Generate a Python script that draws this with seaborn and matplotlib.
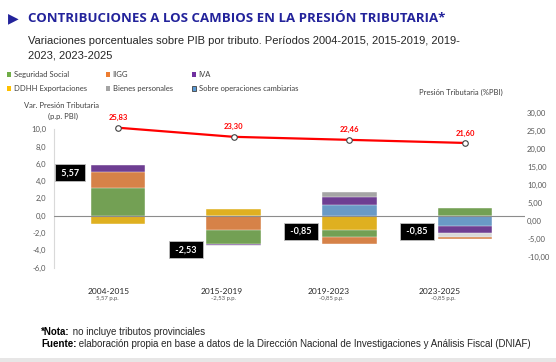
import numpy as np
import pandas as pd
import seaborn as sns
import matplotlib.pyplot as plt
from matplotlib.patches import Patch, Rectangle
from matplotlib.ticker import FuncFormatter

# ---- data ----
periodos = ["2004-2015", "2015-2019", "2019-2023", "2023-2025"]
var_total = [5.57, -2.53, -0.85, -0.85]          # p.p. PBI (black boxes)
presion = [25.83, 23.30, 22.46, 21.60]           # % PBI (red line)

seguridad_social = [3.24, -1.59, -0.84, 0.86]
iigg = [1.85, -1.65, -0.78, -0.30]
iva = [0.78, -0.19, 0.96, -0.78]
ddhh_export = [-0.96, 0.78, -1.66, 0.0]
bienes_personales = [0.0, 0.0, 0.58, 0.0]
otros = [0.0, -0.11, 0.0, -0.46]
cambiarias = [0.0, 0.0, 1.24, -1.19]

tributos = {
    "Seguridad Social": seguridad_social,
    "IIGG": iigg,
    "IVA": iva,
    "DDHH Exportaciones": ddhh_export,
    "Bienes personales": bienes_personales,
    "Otros": otros,
    "Sobre operaciones cambiarias": cambiarias,
}
colores = {
    "Seguridad Social": "#70ad47",
    "IIGG": "#ed7d31",
    "IVA": "#7030a0",
    "DDHH Exportaciones": "#ffc000",
    "Bienes personales": "#a5a5a5",
    "Otros": "#d9d9d9",
    "Sobre operaciones cambiarias": "#5b9bd5",
}

# layout helpers (pixel positions of texts)
box_y = [4.95, -3.95, -1.8, -1.8]
label_px = [109, 222, 329, 440]
sub_px = [107, 223, 331, 443]

W, H = 556, 362

sns.set_style("white")
plt.rcParams["font.family"] = ["Lato", "DejaVu Sans"]

# long table, stacked with the biggest piece next to zero
rows = []
for t, vals in tributos.items():
    for p, v in zip(periodos, vals):
        if v != 0:
            rows.append({"periodo": p, "tributo": t, "valor": v})
df = pd.DataFrame(rows)
df["signo"] = np.sign(df["valor"])
df["mag"] = df["valor"].abs()
df = df.sort_values(["periodo", "signo", "mag"], ascending=[True, True, False])
df["fin"] = df.groupby(["periodo", "signo"])["valor"].cumsum()
df["rango"] = df.groupby(["periodo", "signo"]).cumcount()

fig = plt.figure(figsize=(W / 100, H / 100), dpi=100)
ax = fig.add_axes([54.3 / W, 1 - 275 / H, (525 - 54.3) / W, 170 / H])

for r in sorted(df["rango"].unique(), reverse=True):
    sub = df[df["rango"] == r]
    sns.barplot(data=sub, x="periodo", y="fin", hue="tributo", palette=colores,
                order=periodos, dodge=False, width=0.47, errorbar=None,
                legend=False, edgecolor="white", linewidth=0.3, ax=ax)

ax.axhline(0, color="#8c8c8c", lw=0.8, zorder=3)
ax.set_xlim(-0.551, 3.519)
ax.set_ylim(-6.86, 12.81)
ax.set_yticks(np.arange(-6, 11, 2))
ax.yaxis.set_major_formatter(FuncFormatter(lambda v, _: f"{v:.1f}".replace(".", ",")))
ax.tick_params(axis="y", length=0, pad=6, labelsize=5.5, labelcolor="#595959")
ax.set_xticks([])
ax.set_xlabel("")
ax.set_ylabel("")
for s in ["top", "right", "bottom"]:
    ax.spines[s].set_visible(False)
ax.spines["left"].set_color("#d9d9d9")
ax.spines["left"].set_linewidth(0.8)
ax.spines["left"].set_bounds(-6, 10)
ax.patch.set_alpha(0)

# black total boxes
for i, (v, y) in enumerate(zip(var_total, box_y)):
    ax.text(i - 0.415, y, " " + f"{v:.2f}".replace(".", ",") + " ", ha="center",
            va="center", color="white", fontsize=6.5, fontweight="bold", zorder=5,
            bbox=dict(boxstyle="square,pad=0.45", fc="black", ec="#bfbfbf", lw=0.6))

# red line on secondary axis
ax2 = ax.twinx()
sns.lineplot(x=np.arange(len(periodos)), y=presion, ax=ax2, color="#ff0000",
             lw=1.6, marker="o", markersize=4, markerfacecolor="white",
             markeredgecolor="#404040", markeredgewidth=0.8, zorder=4)
for i, v in enumerate(presion):
    ax2.annotate(f"{v:.2f}".replace(".", ","), (i, v), xytext=(0, 7.2),
                 textcoords="offset points", ha="center", va="center",
                 color="#ff0000", fontsize=5.5, fontweight="bold")
ax2.set_ylim(-15.08, 32.14)
ax2.set_yticks(np.arange(-10, 31, 5))
ax2.yaxis.set_major_formatter(FuncFormatter(lambda v, _: f"{v:.2f}".replace(".", ",")))
ax2.tick_params(axis="y", length=0, pad=1.5, labelsize=5.5, labelcolor="#595959")
ax2.set_xticks([])
ax2.set_xlabel("")
ax2.set_ylabel("")
for s in ax2.spines.values():
    s.set_visible(False)

# category labels
for p, v, x1, x2 in zip(periodos, var_total, label_px, sub_px):
    fig.text(x1 / W, 1 - 291 / H, p, ha="center", va="center", fontsize=6,
             color="#262626")
    fig.text(x2 / W, 1 - 298.5 / H, f"{v:.2f} p.p.".replace(".", ",", 1),
             ha="center", va="center", fontsize=4.3, color="#595959")

# axis titles
fig.text(62 / W, 1 - 106 / H, "Var. Presión Tributaria", ha="center", va="center",
         fontsize=5.5, color="#404040")
fig.text(63 / W, 1 - 116 / H, "(p.p. PBI)", ha="center", va="center",
         fontsize=5.5, color="#404040")
fig.text(503 / W, 1 - 92 / H, "Presión Tributaria (%PBI)", ha="right", va="center",
         fontsize=5.5, color="#404040")

# legend
nombres = ["Seguridad Social", "DDHH Exportaciones", "IIGG", "Bienes personales",
           "IVA", "Sobre operaciones cambiarias"]
handles = [Patch(facecolor=colores[n],
                 edgecolor="#404040" if n == "Sobre operaciones cambiarias" else "none",
                 linewidth=0.6, label=n) for n in nombres]
fig.legend(handles=handles, loc="upper left", bbox_to_anchor=(3 / W, 1 - 67.5 / H),
           ncol=3, frameon=False, fontsize=5.5, handlelength=0.6, handleheight=0.6,
           handletextpad=0.3, columnspacing=2.5, labelspacing=0.85,
           borderpad=0, labelcolor="#404040")

# title block
fig.text(8 / W, 1 - 18 / H, "\u25B6", ha="left", va="center", fontsize=10,
         color="#23239b", family="DejaVu Sans")
fig.text(28 / W, 1 - 18 / H, "CONTRIBUCIONES A LOS CAMBIOS EN LA PRESIÓN TRIBUTARIA*",
         ha="left", va="center", fontsize=9.5, fontweight="bold", color="#23239b",
         family="Open Sans")
fig.text(28 / W, 1 - 41 / H,
         "Variaciones porcentuales sobre PIB por tributo. Períodos 2004-2015, 2015-2019, 2019-",
         ha="left", va="center", fontsize=8, color="#262626", family="Liberation Sans")
fig.text(28 / W, 1 - 56 / H, "2023, 2023-2025", ha="left", va="center", fontsize=8,
         color="#262626", family="Liberation Sans")

# notes
n1 = fig.text(41 / W, 1 - 332 / H, "*Nota:", ha="left", va="center", fontsize=7,
              fontweight="bold", family="Liberation Sans", color="black")
ax.annotate(" no incluye tributos provinciales", xy=(1, 0.5), xycoords=n1,
            ha="left", va="center", fontsize=7, family="Liberation Sans",
            annotation_clip=False)
n2 = fig.text(41 / W, 1 - 344 / H, "Fuente:", ha="left", va="center", fontsize=7,
              fontweight="bold", family="Liberation Sans", color="black")
ax.annotate(" elaboración propia en base a datos de la Dirección Nacional de "
            "Investigaciones y Análisis Fiscal (DNIAF)", xy=(1, 0.5), xycoords=n2,
            ha="left", va="center", fontsize=7, family="Liberation Sans",
            annotation_clip=False)

fig.patches.append(Rectangle((0, 0), 1, 4 / H, transform=fig.transFigure,
                             facecolor="#e7e6e6", edgecolor="none"))

fig.savefig("out.png", dpi=100)
